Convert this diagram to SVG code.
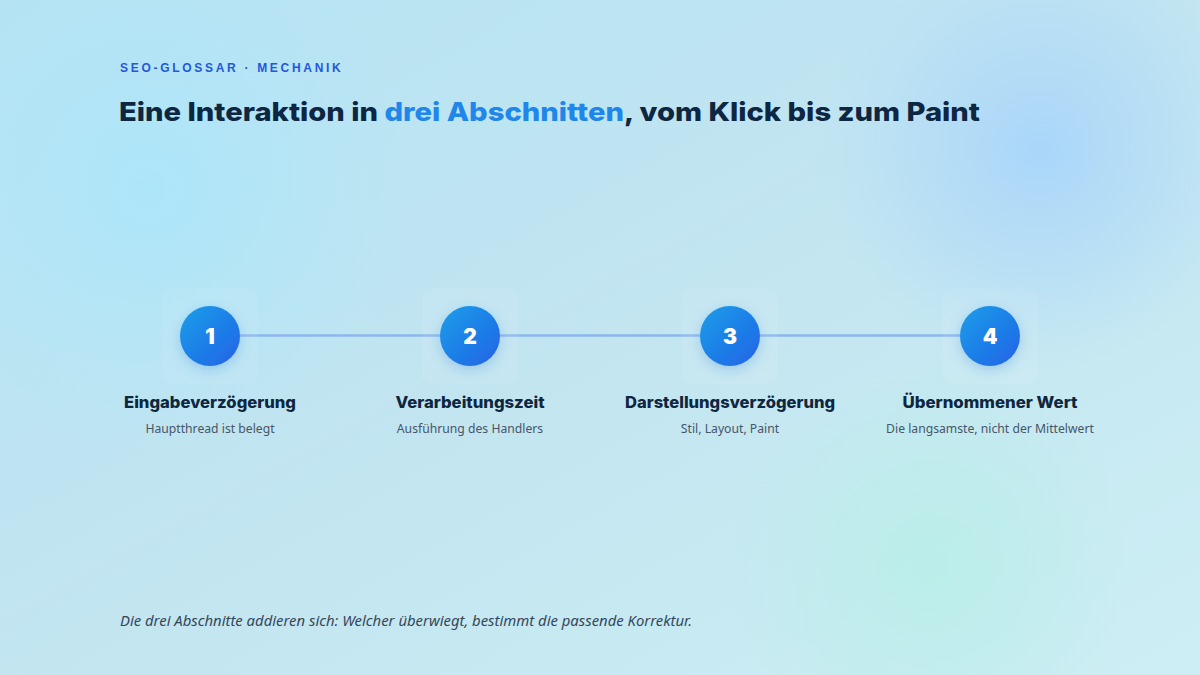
<svg xmlns="http://www.w3.org/2000/svg" width="1200" height="675" viewBox="0 0 1200 675">
<defs>
<linearGradient id="bg" x1="0" y1="0" x2="1" y2="1">
<stop offset="0" stop-color="#b6e3f4"/>
<stop offset="0.5" stop-color="#c2e5f0"/>
<stop offset="1" stop-color="#cdeef4"/>
</linearGradient>
<radialGradient id="blobTR" cx="1040" cy="150" r="220" gradientUnits="userSpaceOnUse">
<stop offset="0" stop-color="#a6d4fb" stop-opacity="0.9"/>
<stop offset="0.6" stop-color="#aed8f8" stop-opacity="0.45"/>
<stop offset="1" stop-color="#b6defa" stop-opacity="0"/>
</radialGradient>
<radialGradient id="blobTL" cx="150" cy="190" r="260" gradientUnits="userSpaceOnUse">
<stop offset="0" stop-color="#ace6fa" stop-opacity="0.9"/>
<stop offset="1" stop-color="#ace6fa" stop-opacity="0"/>
</radialGradient>
<radialGradient id="blobBR" cx="930" cy="565" r="200" gradientUnits="userSpaceOnUse">
<stop offset="0" stop-color="#b5efe6" stop-opacity="0.75"/>
<stop offset="1" stop-color="#b5efe6" stop-opacity="0"/>
</radialGradient>
<linearGradient id="circ" x1="0" y1="0" x2="1" y2="1">
<stop offset="0" stop-color="#189fe9"/>
<stop offset="1" stop-color="#2362e6"/>
</linearGradient>
<filter id="sh" x="-50%" y="-50%" width="200%" height="200%">
<feDropShadow dx="0" dy="4" stdDeviation="6" flood-color="#2a7ad8" flood-opacity="0.28"/>
</filter>
</defs>
<style>
.eyebrow{font-family:"Liberation Sans",Arial,sans-serif;font-weight:700;font-size:12px;letter-spacing:2.7px;fill:#2457dc}
.title{font-family:Inter,"Liberation Sans",Arial,sans-serif;font-weight:800;font-size:26px;fill:#0d2742}
.accent{fill:#1f86ea}
.num{font-family:Inter,"Liberation Sans",Arial,sans-serif;font-weight:900;font-size:21px;fill:#ffffff;text-anchor:middle}
.lbl{font-family:Inter,"Liberation Sans",Arial,sans-serif;font-weight:800;font-size:16px;fill:#0f2640;text-anchor:middle}
.sub{font-family:"Noto Sans","Liberation Sans",sans-serif;font-size:12.2px;fill:#46566a;text-anchor:middle}
.foot{font-family:"Noto Sans","Liberation Sans",sans-serif;font-style:italic;font-size:14.3px;fill:#34475a}
.card{fill:#ffffff;fill-opacity:0.07}
.circle{fill:url(#circ);filter:url(#sh)}
</style>
<rect width="1200" height="675" fill="url(#bg)"/>
<rect width="1200" height="675" fill="url(#blobTL)"/>
<rect width="1200" height="675" fill="url(#blobTR)"/>
<rect width="1200" height="675" fill="url(#blobBR)"/>

<text class="eyebrow" x="120" y="72">SEO-GLOSSAR · MECHANIK</text>
<text class="title" x="119" y="121" textLength="861" lengthAdjust="spacingAndGlyphs">Eine Interaktion in <tspan class="accent">drei Abschnitten</tspan>, vom Klick bis zum Paint</text>

<g id="connectors">
<line x1="240" y1="335.5" x2="960" y2="335.5" stroke="#8db6ee" stroke-width="2.5"/>
</g>

<g id="node1">
<rect class="card" x="162" y="288" width="96" height="96" rx="12"/>
<circle class="circle" cx="210" cy="336" r="30"/>
<text class="num" x="210" y="343.5">1</text>
<text class="lbl" x="210" y="408" textLength="172" lengthAdjust="spacingAndGlyphs">Eingabeverzögerung</text>
<text class="sub" x="210" y="433">Hauptthread ist belegt</text>
</g>
<g id="node2">
<rect class="card" x="422" y="288" width="96" height="96" rx="12"/>
<circle class="circle" cx="470" cy="336" r="30"/>
<text class="num" x="470" y="343.5">2</text>
<text class="lbl" x="470" y="408" textLength="149" lengthAdjust="spacingAndGlyphs">Verarbeitungszeit</text>
<text class="sub" x="470" y="433">Ausführung des Handlers</text>
</g>
<g id="node3">
<rect class="card" x="682" y="288" width="96" height="96" rx="12"/>
<circle class="circle" cx="730" cy="336" r="30"/>
<text class="num" x="730" y="343.5">3</text>
<text class="lbl" x="730" y="408" textLength="210" lengthAdjust="spacingAndGlyphs">Darstellungsverzögerung</text>
<text class="sub" x="730" y="433">Stil, Layout, Paint</text>
</g>
<g id="node4">
<rect class="card" x="942" y="288" width="96" height="96" rx="12"/>
<circle class="circle" cx="990" cy="336" r="30"/>
<text class="num" x="990" y="343.5">4</text>
<text class="lbl" x="990" y="408" textLength="175" lengthAdjust="spacingAndGlyphs">Übernommener Wert</text>
<text class="sub" x="990" y="433">Die langsamste, nicht der Mittelwert</text>
</g>

<text class="foot" x="120" y="626" textLength="572" lengthAdjust="spacingAndGlyphs">Die drei Abschnitte addieren sich: Welcher überwiegt, bestimmt die passende Korrektur.</text>
</svg>
